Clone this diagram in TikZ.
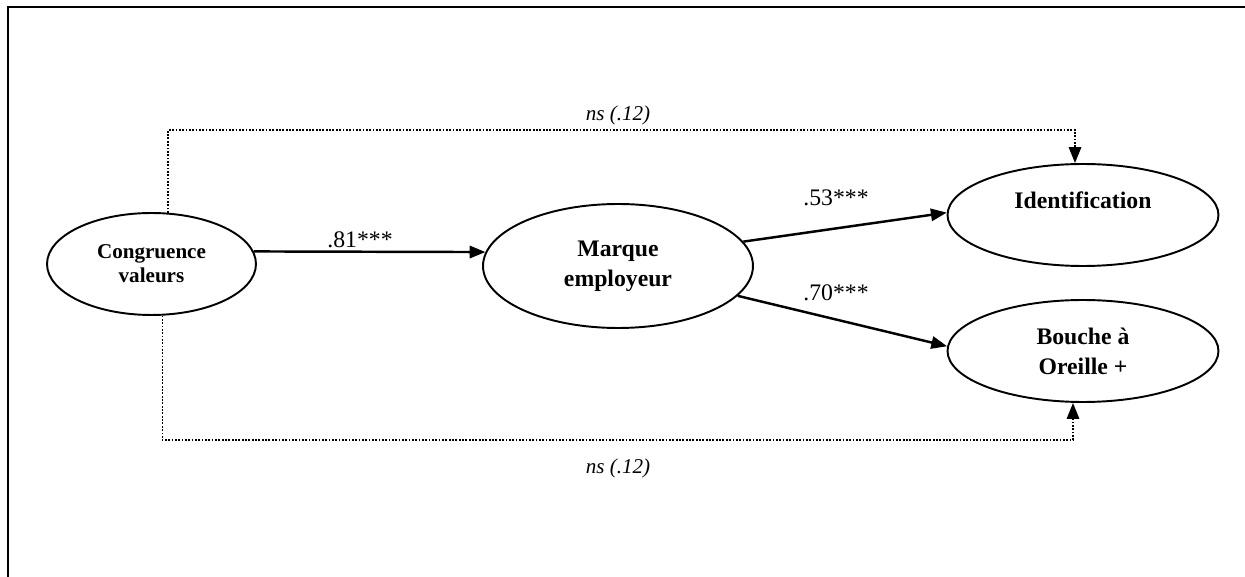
\documentclass[tikz,border=0pt]{standalone}
\usepackage{fontspec}
\setmainfont{Liberation Serif}
\usetikzlibrary{shapes.geometric,arrows.meta,positioning,calc}

\begin{document}
\begin{tikzpicture}[x=0.02cm,y=-0.02cm,
    latent/.style={draw,ellipse,line width=1.1pt,inner sep=0pt,align=center,
        minimum width=5.42cm,minimum height=2.04cm,font=\fontsize{13.5}{17}\selectfont\bfseries},
    effect/.style={line width=1.4pt,-{Triangle[length=9pt,width=7pt]}},
    nseffect/.style={line width=1.1pt,dash pattern=on 1pt off 0.9pt,-{Triangle[length=9pt,width=7pt]}},
    coef/.style={font=\fontsize{13.5}{16}\selectfont},
    nscoef/.style={font=\fontsize{12}{14}\selectfont\itshape}]
    \useasboundingbox (0,0) rectangle (1245,577);

    % Frame
    \draw[line width=1.6pt] (8,577) -- (8,7) -- (1245,7);

    % Latent variables
    \node[latent,minimum width=4.18cm,font=\fontsize{12}{13.8}\selectfont\bfseries] (cong) at (151.5,264) {Congruence\\valeurs};
    \node[latent,minimum width=5.4cm,minimum height=2.48cm] (marque) at (618,266) {Marque\\employeur};
    \node[latent] (ident) at (1083,215) {Identification\\\mbox{}};
    \node[latent] (bouche) at (1083,351) {Bouche à\\Oreille +};

    % Direct paths
    \draw[effect] (cong.7) -- (marque.174);
    \draw[effect] (marque.11) -- (ident.179);
    \draw[effect] (marque.-14) -- (bouche.178);
    \node[coef] (c81) at (360,240) {.81***};
    \node[coef] (c53) at (836,198) {.53***};
    \node[coef] (c70) at (836,293) {.70***};

    % Non significant paths
    \coordinate (ttop) at (1075,130);
    \coordinate (bbot) at (1073,440);
    \draw[nseffect] (cong.72) |- (ttop) -- (ident.north -| ttop);
    \draw[nseffect] (cong.-78) |- (bbot) -- (bouche.south -| bbot);
    \node[nscoef] (nstop) at (618,115) {ns (.12)};
    \node[nscoef] (nsbot) at (618,468) {ns (.12)};
\end{tikzpicture}
\end{document}
